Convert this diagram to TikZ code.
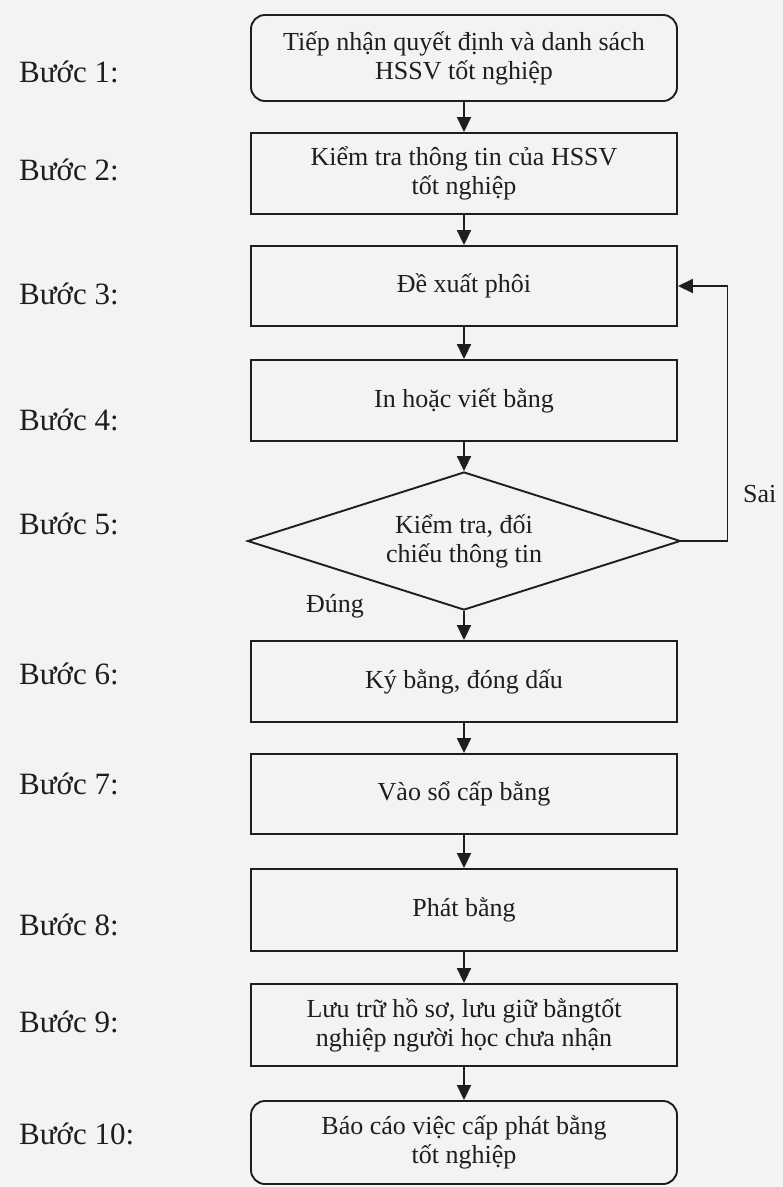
\documentclass[tikz,border=0pt]{standalone}
\usepackage{fontspec}
\setmainfont{Liberation Serif}
\usetikzlibrary{shapes.geometric,arrows.meta}
\definecolor{ink}{RGB}{30,30,30}
\definecolor{paper}{RGB}{243,243,241}
\begin{document}
\begin{tikzpicture}[x=1pt,y=-1pt,
  every node/.style={font=\fontsize{26}{29}\selectfont, text=ink},
  proc/.style={draw=ink, line width=1.9pt, minimum width=426pt, align=center, inner sep=0pt},
  rproc/.style={proc, rounded corners=14pt},
  dec/.style={draw=ink, line width=1.9pt, shape=diamond, aspect=3.1, minimum width=433pt, minimum height=138pt, inner sep=0pt, align=center},
  lbl/.style={font=\fontsize{31}{33}\selectfont, anchor=west, inner sep=0pt},
  arr/.style={draw=ink, line width=1.9pt, -{Triangle[length=15pt,width=14pt]}},
]
\fill[paper] (0,0) rectangle (783,1187);
\useasboundingbox (0,0) rectangle (783,1187);

% boxes
\node[rproc, minimum height=86pt] (b1) at (464,58) {Tiếp nhận quyết định và danh sách\\HSSV tốt nghiệp};
\node[proc, minimum height=81pt] (b2) at (464,173.5) {Kiểm tra thông tin của HSSV\\tốt nghiệp};
\node[proc, minimum height=80pt] (b3) at (464,286) {Đề xuất phôi};
\node[proc, minimum height=81pt] (b4) at (464,400.5) {In hoặc viết bằng};
\node[dec] (d) at (464,541) {Kiểm tra, đối\\chiếu thông tin};
\node[proc, minimum height=81pt] (b6) at (464,681.5) {Ký bằng, đóng dấu};
\node[proc, minimum height=80pt] (b7) at (464,794) {Vào sổ cấp bằng};
\node[proc, minimum height=82pt] (b8) at (464,910) {Phát bằng};
\node[proc, minimum height=82pt] (b9) at (464,1025) {Lưu trữ hồ sơ, lưu giữ bằngtốt\\nghiệp người học chưa nhận};
\node[rproc, minimum height=83pt] (b10) at (464,1142.5) {Báo cáo việc cấp phát bằng\\tốt nghiệp};

% step labels
\node[lbl] (s1) at (19,72) {Bước 1:};
\node[lbl] (s2) at (19,170) {Bước 2:};
\node[lbl] (s3) at (19,294) {Bước 3:};
\node[lbl] (s4) at (19,420) {Bước 4:};
\node[lbl] (s5) at (19,524) {Bước 5:};
\node[lbl] (s6) at (19,674) {Bước 6:};
\node[lbl] (s7) at (19,784) {Bước 7:};
\node[lbl] (s8) at (19,925) {Bước 8:};
\node[lbl] (s9) at (19,1022) {Bước 9:};
\node[lbl] (s10) at (19,1134) {Bước 10:};

% branch labels
\node[anchor=west, inner sep=0pt] (sai) at (743,494) {Sai};
\node[inner sep=0pt] (dung) at (335,606) {Đúng};

% connectors
\draw[arr] (b1) -- (b2);
\draw[arr] (b2) -- (b3);
\draw[arr] (b3) -- (b4);
\draw[arr] (b4) -- (d);
\draw[arr] (d) -- (b6);
\draw[arr] (b6) -- (b7);
\draw[arr] (b7) -- (b8);
\draw[arr] (b8) -- (b9);
\draw[arr] (b9) -- (b10);
\draw[arr] (d.east) -- ++(46,0) |- (b3.east);
\end{tikzpicture}
\end{document}
